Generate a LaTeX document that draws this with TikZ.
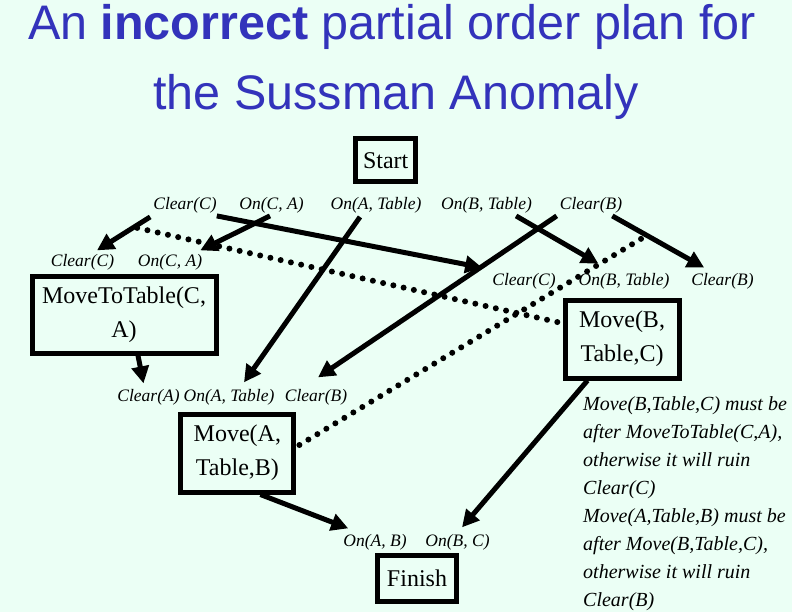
\documentclass[tikz,border=0pt]{standalone}
\usepackage{fontspec}
\setmainfont{Liberation Serif}
\newfontfamily\titlefont{Liberation Sans}
\usetikzlibrary{arrows.meta}
\definecolor{bgmint}{RGB}{235,255,245}
\definecolor{titleblue}{RGB}{51,51,187}
\begin{document}
\begin{tikzpicture}[x=1pt,y=-1pt,
  box/.style={draw=black, line width=5pt, align=center, inner sep=0pt, font=\fontsize{24}{34}\selectfont},
  lbl/.style={inner sep=0pt, anchor=base, font=\fontsize{17.5}{20}\selectfont\itshape},
  arr/.style={line width=5pt, -{Triangle[length=17pt,width=17pt]}},
  dots/.style={line width=6pt, line cap=round, dash pattern=on 0pt off 10.5pt},
  note/.style={inner sep=0pt, anchor=base west, font=\fontsize{20}{24}\selectfont\itshape},
  ttl/.style={inner sep=0pt, anchor=base, text=titleblue, font=\titlefont\fontsize{48.5}{58}\selectfont}
]
\fill[bgmint] (0,0) rectangle (792,612);
\useasboundingbox (0,0) rectangle (792,612);

% title
\node[ttl] (t1) at (392,40) {An \textbf{incorrect} partial order plan for};
\node[ttl] (t2) at (396,110) {the Sussman Anomaly};

% steps
\node[box, minimum width=60.5pt, minimum height=43pt] (start) at (385.7,160.5) {Start};
\node[box, minimum width=184pt, minimum height=76pt] (mtt) at (124,315) {MoveToTable(C,\\A)};
\node[box, minimum width=114pt, minimum height=78pt] (mb) at (622,339) {Move(B,\\Table,C)};
\node[box, minimum width=113pt, minimum height=78pt] (ma) at (237.4,453) {Move(A,\\Table,B)};
\node[box, minimum width=79pt, minimum height=46pt] (fin) at (417,578) {Finish};

% condition labels
\node[lbl] (sCC) at (185,210) {Clear(C)};
\node[lbl] (sCA) at (271.5,210) {On(C, A)};
\node[lbl] (sAT) at (376,210) {On(A, Table)};
\node[lbl] (sBT) at (486.5,210) {On(B, Table)};
\node[lbl] (sCB) at (591,210) {Clear(B)};
\node[lbl] (mCC) at (82.5,266.7) {Clear(C)};
\node[lbl] (mCA) at (170,266.7) {On(C, A)};
\node[lbl] (bCC) at (524,285) {Clear(C)};
\node[lbl] (bBT) at (624,285) {On(B, Table)};
\node[lbl] (bCB) at (722.5,285) {Clear(B)};
\node[lbl] (aCA) at (148.5,401.7) {Clear(A)};
\node[lbl] (aAT) at (229,401.7) {On(A, Table)};
\node[lbl] (aCB) at (316,401.7) {Clear(B)};
\node[lbl] (fAB) at (375,546.7) {On(A, B)};
\node[lbl] (fBC) at (457.5,546.7) {On(B, C)};

% causal links
\draw[arr] ([shift={(-3,3)}]sCC.south west) -- ([shift={(14.5,-4)}]mCC.north);
\draw[arr] ([shift={(-1.5,2)}]sCA.south) -- ([shift={(-2,-4)}]mCA.north east);
\draw[arr] ([shift={(0,2)}]sCC.south east) -- ([shift={(-10,-5)}]bCC.north west);
\draw[arr] ([shift={(-16,3)}]sAT.south) -- ([shift={(15,-7)}]aAT.north);
\draw[arr] ([shift={(-3,2)}]sCB.south west) -- ([shift={(2,-12)}]aCB.north);
\draw[arr] ([shift={(-16,2)}]sBT.south east) -- ([shift={(20,-9)}]bBT.north west);
\draw[arr] ([shift={(-10,2)}]sCB.south east) -- ([shift={(13,-5)}]bCB.north west);
\draw[arr] ([shift={(14,0)}]mtt.south) -- ([shift={(-5,-6)}]aCA.north);
\draw[arr] ([shift={(23,0)}]ma.south) -- ([shift={(5,-6)}]fAB.north west);
\draw[arr] ([shift={(25,0)}]mb.south west) -- ([shift={(4.5,-7)}]fBC.north);

% threats
\draw[dots] ([shift={(-16,14)}]sCC.south west) -- ([shift={(-1,-16)}]mb.west);
\draw[dots] ([shift={(3,-8)}]ma.east) -- ([shift={(19,-35)}]bBT.north);

% note
\node[note] (n1) at (583,410) {Move(B,Table,C) must be};
\node[note] (n2) at (583,438) {after MoveToTable(C,A),};
\node[note] (n3) at (583,466) {otherwise it will ruin};
\node[note] (n4) at (583,494) {Clear(C)};
\node[note] (n5) at (583,522) {Move(A,Table,B) must be};
\node[note] (n6) at (583,550) {after Move(B,Table,C),};
\node[note] (n7) at (583,578) {otherwise it will ruin};
\node[note] (n8) at (583,606) {Clear(B)};
\end{tikzpicture}
\end{document}
